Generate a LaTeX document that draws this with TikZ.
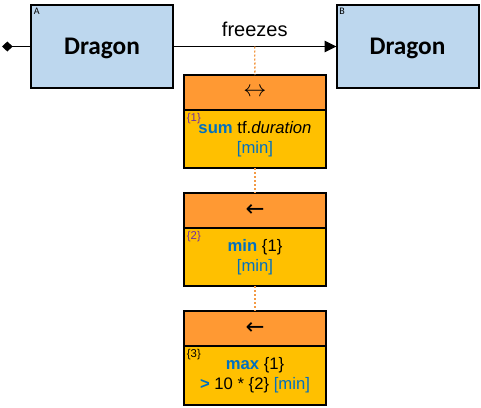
\documentclass[tikz,border=0pt]{standalone}
\usepackage{fontspec}
\setmainfont{Liberation Sans}
\newfontfamily\calibri{Carlito}
\newfontfamily\arrowfont{DejaVu Sans}
\usetikzlibrary{positioning,arrows.meta}
\definecolor{cEnt}{HTML}{BDD7EE}
\definecolor{cHead}{HTML}{FF9933}
\definecolor{cBody}{HTML}{FFC000}
\definecolor{cKey}{HTML}{0070C0}
\definecolor{cRef}{HTML}{7030A0}
\definecolor{cDot}{HTML}{F39A45}
\newcommand\kwd[1]{{\color{cKey}\bfseries #1}}
\newcommand\unt{{\color{cKey}[min]}}

\begin{document}
\begin{tikzpicture}[x=0.75pt,y=-0.75pt,
  ent/.style={draw,line width=1.5pt,fill=cEnt,minimum width=106.5pt,minimum height=62.25pt,inner sep=0pt,outer sep=0pt,text depth=0pt,font=\calibri\bfseries\fontsize{19}{22}\selectfont},
  tag/.style={anchor=north west,inner sep=2pt,font=\calibri\fontsize{7.5}{8}\selectfont},
  head/.style={draw,line width=1.5pt,fill=cHead,minimum width=106.5pt,minimum height=26.25pt,inner sep=0pt,outer sep=0pt},
  body/.style={draw,line width=1.5pt,fill=cBody,minimum width=106.5pt,minimum height=#1,inner sep=0pt,outer sep=0pt,align=center,font=\fontsize{12.5}{15}\selectfont},
  num/.style={anchor=north west,inner sep=2pt,font=\fontsize{8.5}{9}\selectfont},
  link/.style={draw=cDot,line width=1pt,dash pattern=on 1.5pt off 1.5pt}]
\useasboundingbox (0,0) rectangle (481,407);
% ---------- entities ----------
\node[ent] (A) at (102,46.5) {Dragon};
\node[ent] (B) at (407.5,46.5) {Dragon};
\node[tag] at (A.north west) {A};
\node[tag] at (B.north west) {B};
\coordinate (start) at (2,46.5);
\draw[line width=1.2pt,{Diamond[length=8pt,width=7.5pt]}-] (start) -- (A);
\draw[line width=1.2pt,-{Triangle[length=9pt,width=8.5pt]}] (A) -- coordinate[pos=0.5] (mid)
  node[pos=0.5,above=3.5pt,font=\fontsize{15}{17}\selectfont] {freezes} (B);
% ---------- aggregation steps ----------
\node[head] (h1) at (255,92.5) {\fontsize{16}{16}\selectfont$\leftrightarrow$};
\node[body=43.5pt,below=0pt of h1] (b1) {\kwd{sum} tf.\textit{duration}\\ \unt};
\node[head] (h2) at (255,210.5) {\arrowfont\fontsize{17}{17}\selectfont ←};
\node[body=43.5pt,below=0pt of h2] (b2) {\kwd{min} \{1\}\\ \unt};
\node[head] (h3) at (255,328.5) {\arrowfont\fontsize{17}{17}\selectfont ←};
\node[body=44.5pt,below=0pt of h3] (b3) {\kwd{max} \{1\}\\ \kwd{>} 10 * \{2\} \unt};
\node[num,text=cRef] at (b1.north west) {\{1\}};
\node[num,text=cRef] at (b2.north west) {\{2\}};
\node[num] at (b3.north west) {\{3\}};
\draw[link] (mid) -- (h1);
\foreach \a/\b in {b1/h2,b2/h3}{\draw[link] (\a) -- (\b);}
\end{tikzpicture}
\end{document}
